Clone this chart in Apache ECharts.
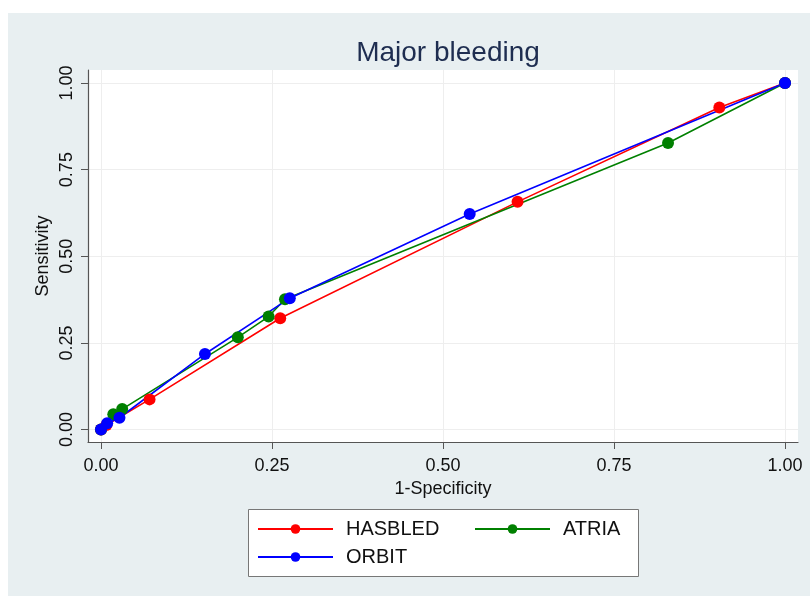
<!DOCTYPE html>
<html>
<head>
<meta charset="utf-8">
<script src="https://cdn.jsdelivr.net/npm/echarts@6/dist/echarts.min.js"></script>
<style>
  html, body { margin: 0; padding: 0; background: #fff; }
  #chart { width: 810px; height: 596px; }
</style>
</head>
<body>
<div id="chart"></div>
<script>
// 축 눈금
const tickValues = [0, 0.25, 0.5, 0.75, 1];

// 각 점수의 ROC 좌표 (1-특이도, 민감도)
const hasbledX = [0, 0.008, 0.071, 0.262, 0.609, 0.904, 1];
const hasbledY = [0, 0.013, 0.087, 0.321, 0.657, 0.929, 1];

const atriaX = [0, 0.018, 0.031, 0.200, 0.245, 0.269, 0.829, 1];
const atriaY = [0, 0.044, 0.059, 0.266, 0.326, 0.376, 0.827, 1];

const orbitX = [0, 0.009, 0.027, 0.152, 0.276, 0.539, 1];
const orbitY = [0, 0.018, 0.034, 0.218, 0.379, 0.622, 1];

const pairs = (xs, ys) => xs.map((x, i) => [x, ys[i]]);

const makeSeries = (name, color, xs, ys) => ({
    name: name,
    type: "line",
    data: pairs(xs, ys),
    symbol: "circle",
    symbolSize: 12,
    showSymbol: true,
    lineStyle: { color: color, width: 1.6 },
    itemStyle: { color: color },
    emphasis: { disabled: true },
    animation: false,
});

const fmt = (v) => v.toFixed(2);

const legendText = { fontSize: 20, color: "#111", padding: [0, 0, 0, 8] };

const chart = echarts.init(document.getElementById("chart"));

chart.setOption({
    animation: false,
    backgroundColor: "#ffffff",
    textStyle: { fontFamily: "Liberation Sans, Arial, sans-serif" },
    title: {
        text: "Major bleeding",
        left: 443,
        textAlign: "center",
        top: 34,
        textStyle: { fontSize: 28, fontWeight: "normal", color: "#1e2d50" },
    },
    graphic: [
        // 그래프 영역 배경
        {
            type: "rect",
            z: -10,
            shape: { x: 8, y: 13, width: 802, height: 583 },
            style: { fill: "#e8eff1" },
            silent: true,
        },
        // 범례 박스
        {
            type: "rect",
            z: 1,
            shape: { x: 248.5, y: 509.5, width: 390, height: 67 },
            style: { fill: "#ffffff", stroke: "#777777", lineWidth: 1 },
            silent: true,
        },
    ],
    grid: {
        left: 88,
        right: 12,
        top: 70,
        bottom: 154,
        show: true,
        backgroundColor: "#ffffff",
        borderWidth: 0,
        containLabel: false,
    },
    legend: [
        {
            data: ["HASBLED", "ORBIT"],
            orient: "vertical",
            left: 257,
            top: 519,
            padding: 0,
            itemWidth: 75,
            itemHeight: 12,
            itemGap: 8,
            textStyle: legendText,
            selectedMode: false,
        },
        {
            data: ["ATRIA"],
            orient: "vertical",
            left: 474,
            top: 519,
            padding: 0,
            itemWidth: 75,
            itemHeight: 12,
            textStyle: legendText,
            selectedMode: false,
        },
    ],
    xAxis: {
        type: "value",
        min: -0.019,
        max: 1.019,
        name: "1-Specificity",
        nameLocation: "middle",
        nameGap: 37,
        nameTextStyle: { fontSize: 18, color: "#111" },
        axisLine: { show: true, onZero: false, lineStyle: { color: "#555", width: 1.2 } },
        axisTick: { show: true, length: 7, customValues: tickValues, lineStyle: { color: "#555" } },
        axisLabel: { customValues: tickValues, formatter: fmt, fontSize: 18, color: "#111", margin: 15 },
        splitLine: { show: true, lineStyle: { color: "#eeeeee", width: 1 } },
    },
    yAxis: {
        type: "value",
        min: -0.036,
        max: 1.0375,
        name: "Sensitivity",
        nameLocation: "middle",
        nameRotate: 90,
        nameGap: 36,
        nameMoveOverlap: false,
        nameTextStyle: { fontSize: 18, color: "#111" },
        axisLine: { show: true, onZero: false, lineStyle: { color: "#555", width: 1.2 } },
        axisTick: { show: true, length: 7, customValues: tickValues, lineStyle: { color: "#555" } },
        axisLabel: {
            customValues: tickValues,
            formatter: fmt,
            fontSize: 18,
            color: "#111",
            rotate: 90,
            margin: 12,
        },
        splitLine: { show: true, lineStyle: { color: "#eeeeee", width: 1 } },
    },
    series: [
        makeSeries("HASBLED", "#ff0000", hasbledX, hasbledY),
        makeSeries("ATRIA", "#008000", atriaX, atriaY),
        makeSeries("ORBIT", "#0000ff", orbitX, orbitY),
    ],
});
</script>
</body>
</html>
